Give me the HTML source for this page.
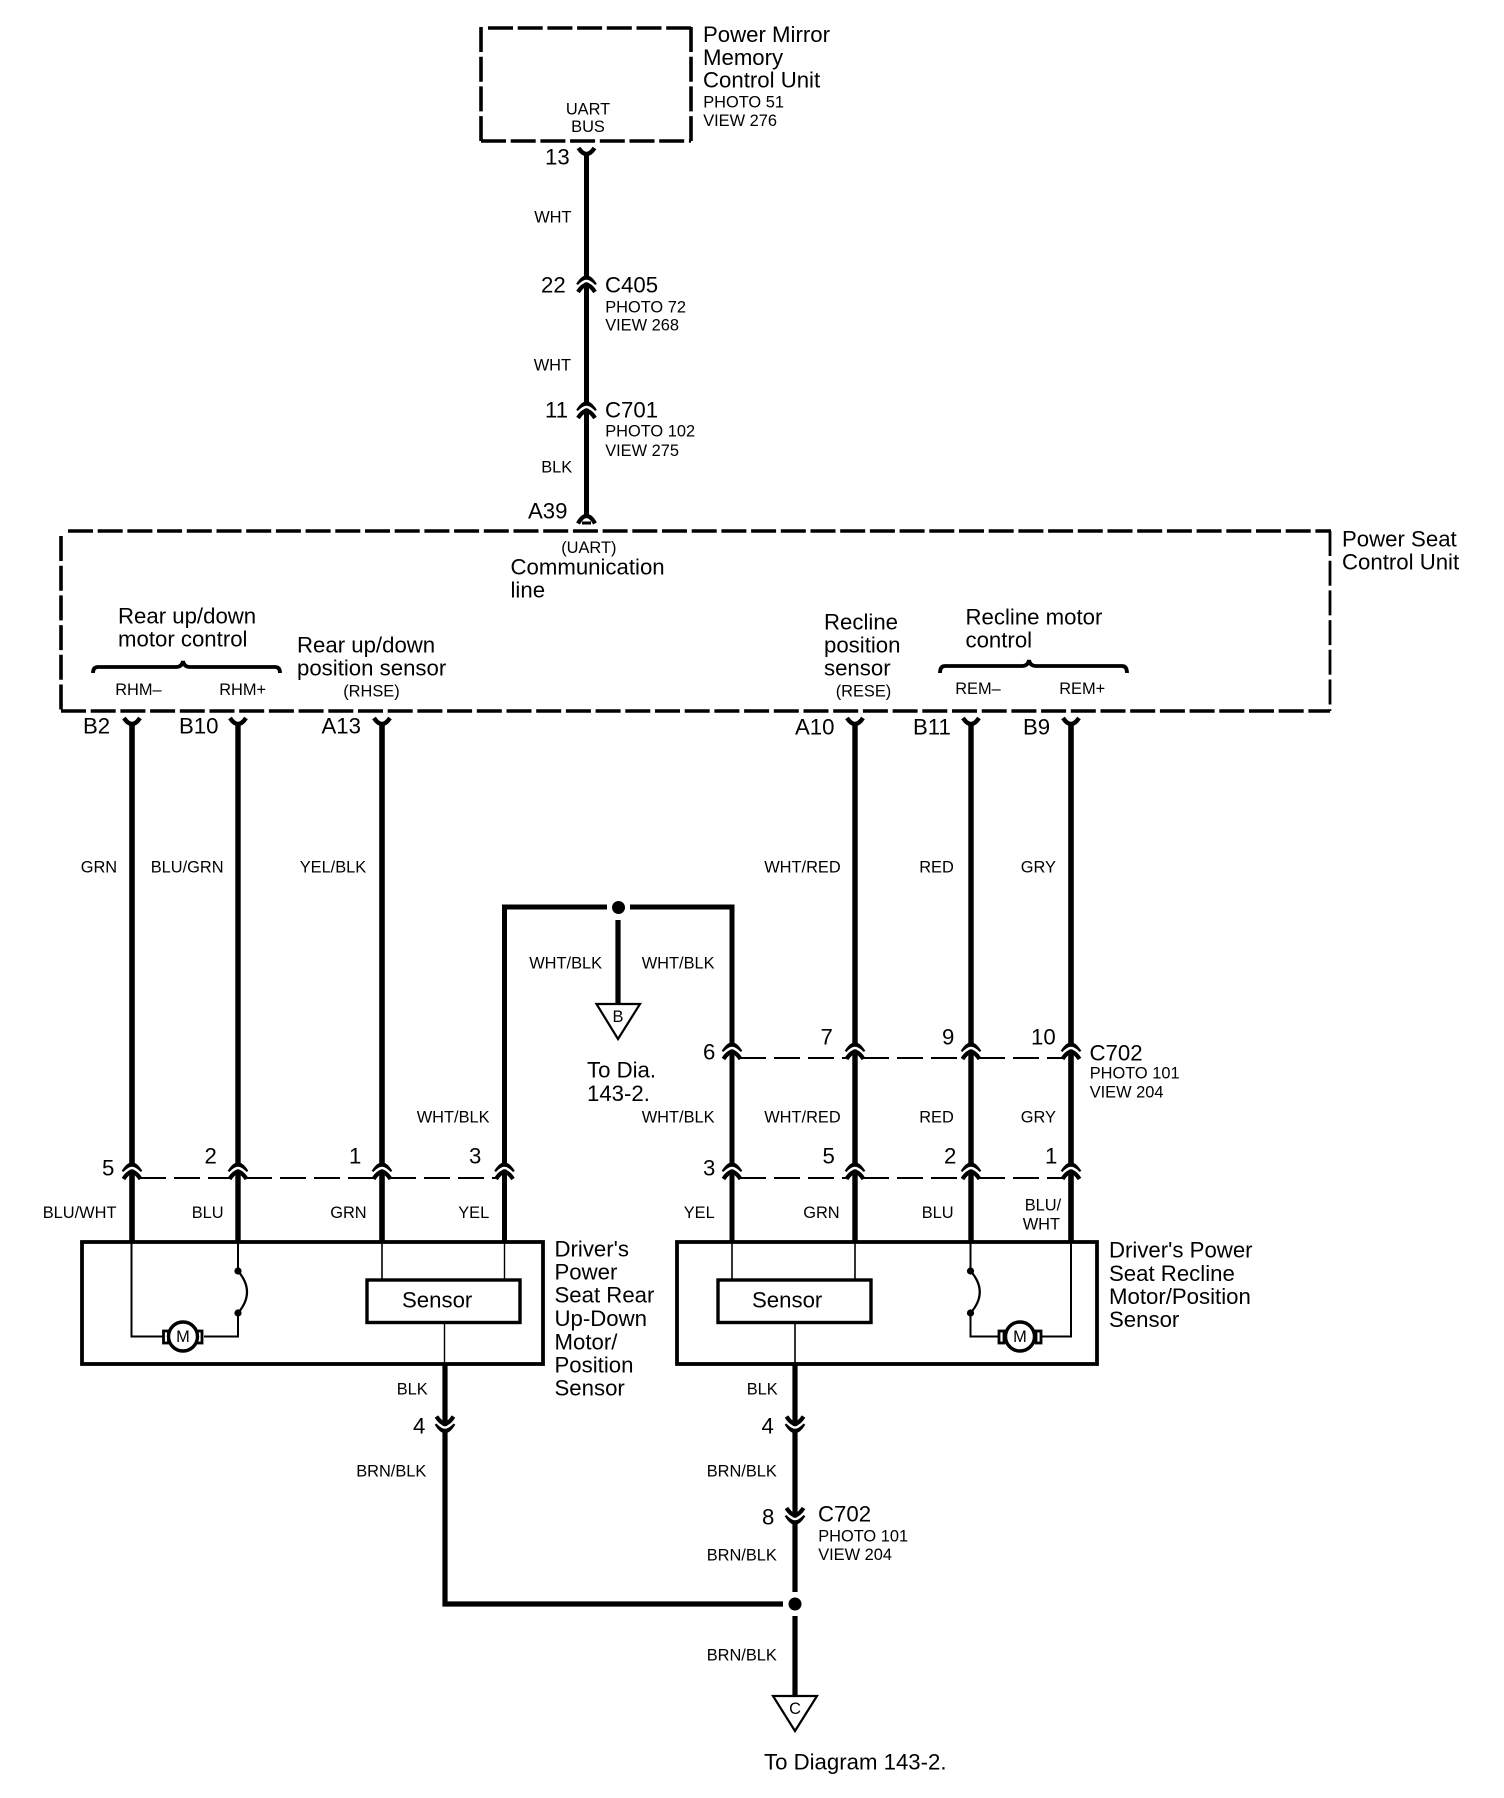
<!DOCTYPE html>
<html><head><meta charset="utf-8"><style>
html,body{margin:0;padding:0;background:#fff}
svg{display:block}
text{font-family:"Liberation Sans",sans-serif;fill:#000}
.b{font-size:22.2px}
.s{font-size:16.4px}
.m{text-anchor:middle}
</style></head><body>
<svg width="1504" height="1798" viewBox="0 0 1504 1798" xmlns="http://www.w3.org/2000/svg">
<defs>
<g id="up" fill="none">
<path d="M-8.5,-6 Q-4,-13.5 0,-13.5 Q4,-13.5 8.5,-6" stroke="#000" stroke-width="4.2"/>
<path d="M-10,-2.5 Q-4,-10 0,-10 Q4,-10 10,-2.5" stroke="#fff" stroke-width="2.4"/>
<path d="M-8.5,1 Q-4,-6 0,-6 Q4,-6 8.5,1" stroke="#000" stroke-width="4.2"/>
</g>
<path id="y" d="M-8,0 Q-4,6 0,6 Q4,6 8,0" fill="none" stroke="#000" stroke-width="4.4"/>
</defs>

<!-- dashed boxes -->
<g fill="none" stroke="#000" stroke-width="3.6" stroke-dasharray="25 4.7">
<path d="M488,28 H691"/>
<path d="M481,27 V141"/>
<path d="M691,27 V141"/>
<path d="M481,141 H691"/>
<path d="M68,531 H1331"/>
<path d="M1330,531 V711" stroke-width="2.8"/>
<path d="M61,536 V711"/>
<path d="M61,711 H1330"/>
</g>

<!-- thick wires -->
<g fill="none" stroke="#000" stroke-linecap="butt">
<path d="M586.5,154 V518" stroke-width="5"/>
<path d="M132,723 V1243" stroke-width="5.6"/>
<path d="M238,723 V1243" stroke-width="5.4"/>
<path d="M382,723 V1243" stroke-width="5.6"/>
<path d="M855,723 V1243" stroke-width="5.4"/>
<path d="M971,723 V1243" stroke-width="5.4"/>
<path d="M1071,723 V1243" stroke-width="5.6"/>
<path d="M504.5,1243 V907 H607" stroke-width="5"/>
<path d="M630,907 H732 V1243" stroke-width="5"/>
<path d="M618,920 V1004" stroke-width="5.2"/>
<path d="M445,1364 V1604 H783" stroke-width="5.2"/>
<path d="M795,1364 V1592" stroke-width="5.2"/>
<path d="M795,1616 V1696" stroke-width="5.2"/>
</g>
<circle cx="618.5" cy="907.5" r="6.5" fill="#000"/>
<circle cx="795" cy="1604" r="6.5" fill="#000"/>

<!-- thin dashed connector bars -->
<g fill="none" stroke="#000" stroke-width="2" stroke-dasharray="26 8">
<path d="M140,1178 H230"/>
<path d="M246,1178 H374"/>
<path d="M390,1178 H496"/>
<path d="M740,1058 H847"/>
<path d="M863,1058 H963"/>
<path d="M979,1058 H1063"/>
<path d="M740,1178 H847"/>
<path d="M863,1178 H963"/>
<path d="M979,1178 H1063"/>
</g>

<!-- connectors -->
<use href="#y" transform="translate(586.5,148)"/>
<use href="#up" transform="translate(586.5,291)"/>
<use href="#up" transform="translate(586.5,417)"/>
<path d="M578,523.5 Q582,516 586.5,516 Q591,516 595,523.5" fill="none" stroke="#000" stroke-width="4.2"/>
<rect x="582" y="521.5" width="9" height="3" fill="#000"/>
<use href="#y" transform="translate(132,718)"/>
<use href="#y" transform="translate(238,718)"/>
<use href="#y" transform="translate(382,718)"/>
<use href="#y" transform="translate(855,718)"/>
<use href="#y" transform="translate(971,718)"/>
<use href="#y" transform="translate(1071,718)"/>
<use href="#up" transform="translate(732,1058)"/>
<use href="#up" transform="translate(855,1058)"/>
<use href="#up" transform="translate(971,1058)"/>
<use href="#up" transform="translate(1071,1058)"/>
<use href="#up" transform="translate(132,1178)"/>
<use href="#up" transform="translate(238,1178)"/>
<use href="#up" transform="translate(382,1178)"/>
<use href="#up" transform="translate(504.5,1178)"/>
<use href="#up" transform="translate(732,1178)"/>
<use href="#up" transform="translate(855,1178)"/>
<use href="#up" transform="translate(971,1178)"/>
<use href="#up" transform="translate(1071,1178)"/>
<use href="#up" transform="translate(445,1417.5) scale(1,-1)"/>
<use href="#up" transform="translate(795,1417.5) scale(1,-1)"/>
<use href="#up" transform="translate(795,1509) scale(1,-1)"/>

<!-- component boxes -->
<g fill="none" stroke="#000" stroke-width="3.8">
<rect x="82" y="1242" width="461" height="122"/>
<rect x="677" y="1242" width="420" height="122"/>
<rect x="367" y="1280" width="153" height="42.5" stroke-width="3.4"/>
<rect x="718" y="1280" width="153" height="42.5" stroke-width="3.4"/>
</g>

<!-- internal thin wiring -->
<g fill="none" stroke="#000" stroke-width="2">
<path d="M131.5,1243 V1336.5 H163"/>
<path d="M238,1243 V1271"/>
<path d="M238,1313 V1336.5 H204"/>
<path d="M238,1271 Q256,1292 238,1313" stroke-width="2.2"/>
<path d="M382,1243 V1280" stroke-width="1.6"/>
<path d="M504.5,1243 V1280" stroke-width="1.4"/>
<path d="M444.5,1322 V1364" stroke-width="1.4"/>
<path d="M1071,1243 V1336.5 H1041"/>
<path d="M970.5,1243 V1271"/>
<path d="M970.5,1313 V1336.5 H999"/>
<path d="M970.5,1271 Q989,1292 970.5,1313" stroke-width="2.2"/>
<path d="M732,1243 V1280" stroke-width="1.6"/>
<path d="M855,1243 V1280" stroke-width="1.6"/>
<path d="M795,1322 V1364" stroke-width="1.6"/>
</g>
<g fill="#000">
<circle cx="238" cy="1271" r="3.6"/><circle cx="238" cy="1313" r="3.6"/>
<circle cx="970.5" cy="1271" r="3.6"/><circle cx="970.5" cy="1313" r="3.6"/>
</g>

<!-- motors -->
<g fill="#fff" stroke="#000" stroke-width="2.8">
<rect x="163.5" y="1331" width="5" height="12"/><rect x="197" y="1331" width="5" height="12"/>
<circle cx="183" cy="1336.5" r="14.5" stroke-width="3.4"/>
<rect x="999" y="1331" width="5" height="12"/><rect x="1036" y="1331" width="5" height="12"/>
<circle cx="1020" cy="1336.5" r="14.5" stroke-width="3.4"/>
</g>

<!-- braces -->
<g fill="none" stroke="#000" stroke-width="3.8">
<path d="M93,673 Q93,667 98,667 L176,667 Q182,667 183,661 Q184,667 190,667 L275,667 Q280,667 280,673"/>
<path d="M940,673 Q940,666 945,666 L1022,666 Q1028,666 1029,660 Q1030,666 1036,666 L1122,666 Q1127,666 1127,673"/>
</g>

<!-- off-page triangles -->
<g fill="#fff" stroke="#000" stroke-width="2.2">
<path d="M596.5,1004 H640 L618,1039 Z"/>
<path d="M773,1696 H817 L795,1731 Z"/>
</g>

<!-- text -->
<g class="b" transform="translate(-1,-0.5)">
<text x="704" y="42.5">Power Mirror</text>
<text x="704" y="65.5">Memory</text>
<text x="704" y="88">Control Unit</text>
<text x="546" y="165">13</text>
<text x="542" y="293">22</text>
<text x="606" y="293">C405</text>
<text x="546" y="418">11</text>
<text x="606" y="418">C701</text>
<text x="529" y="519">A39</text>
<text x="511.5" y="575">Communication</text>
<text x="511.5" y="598">line</text>
<text x="119" y="624">Rear up/down</text>
<text x="119" y="647">motor control</text>
<text x="298" y="653">Rear up/down</text>
<text x="298" y="676">position sensor</text>
<text x="825" y="630">Recline</text>
<text x="825" y="653">position</text>
<text x="825" y="676">sensor</text>
<text x="966.5" y="625">Recline motor</text>
<text x="966.5" y="648">control</text>
<text x="1343" y="547">Power Seat</text>
<text x="1343" y="570">Control Unit</text>
<text x="84" y="734">B2</text>
<text x="180" y="734">B10</text>
<text x="322.5" y="734">A13</text>
<text x="796" y="735">A10</text>
<text x="914" y="735">B11</text>
<text x="1024" y="735">B9</text>
<text x="704" y="1060">6</text>
<text x="821.5" y="1045">7</text>
<text x="943" y="1045">9</text>
<text x="1032" y="1045">10</text>
<text x="1090.5" y="1061">C702</text>
<text x="588" y="1078">To Dia.</text>
<text x="588" y="1101.5">143-2.</text>
<text x="103" y="1176">5</text>
<text x="205.5" y="1164">2</text>
<text x="350" y="1164">1</text>
<text x="470" y="1164">3</text>
<text x="704" y="1176">3</text>
<text x="823.5" y="1164">5</text>
<text x="945" y="1164">2</text>
<text x="1046" y="1164">1</text>
<text x="403" y="1308">Sensor</text>
<text x="753" y="1308">Sensor</text>
<text x="555.5" y="1257">Driver's</text>
<text x="555.5" y="1280">Power</text>
<text x="555.5" y="1303">Seat Rear</text>
<text x="555.5" y="1326.5">Up-Down</text>
<text x="555.5" y="1350">Motor/</text>
<text x="555.5" y="1373">Position</text>
<text x="555.5" y="1396">Sensor</text>
<text x="1110" y="1258">Driver's Power</text>
<text x="1110" y="1281.5">Seat Recline</text>
<text x="1110" y="1304.5">Motor/Position</text>
<text x="1110" y="1327.5">Sensor</text>
<text x="414" y="1434">4</text>
<text x="762.5" y="1434">4</text>
<text x="763" y="1525">8</text>
<text x="819" y="1522">C702</text>
<text x="765" y="1770">To Diagram 143-2.</text>
</g>
<g class="s" transform="translate(-0.8,-0.4)">
<text x="704" y="108">PHOTO 51</text>
<text x="704" y="126.5">VIEW 276</text>
<text x="588.8" y="115" class="m">UART</text>
<text x="588.8" y="132.5" class="m">BUS</text>
<text x="535" y="223">WHT</text>
<text x="606" y="313">PHOTO 72</text>
<text x="606" y="331">VIEW 268</text>
<text x="534.5" y="371">WHT</text>
<text x="606" y="437">PHOTO 102</text>
<text x="606" y="456.5">VIEW 275</text>
<text x="542" y="473">BLK</text>
<text x="562" y="553.5">(UART)</text>
<text x="116" y="695.5">RHM–</text>
<text x="220" y="695.5">RHM+</text>
<text x="344" y="697">(RHSE)</text>
<text x="836.5" y="697">(RESE)</text>
<text x="956" y="694.5">REM–</text>
<text x="1060" y="694.5">REM+</text>
<text x="81.5" y="873">GRN</text>
<text x="151.5" y="873">BLU/GRN</text>
<text x="300.5" y="873">YEL/BLK</text>
<text x="765" y="873">WHT/RED</text>
<text x="920" y="873">RED</text>
<text x="1021.5" y="873">GRY</text>
<text x="530" y="969">WHT/BLK</text>
<text x="642.5" y="969">WHT/BLK</text>
<text x="1090.5" y="1079">PHOTO 101</text>
<text x="1090.5" y="1098">VIEW 204</text>
<text x="417.5" y="1123">WHT/BLK</text>
<text x="642.5" y="1123">WHT/BLK</text>
<text x="765" y="1123">WHT/RED</text>
<text x="920" y="1123">RED</text>
<text x="1021.5" y="1123">GRY</text>
<text x="43.5" y="1218.5">BLU/WHT</text>
<text x="192.5" y="1218.5">BLU</text>
<text x="331" y="1218.5">GRN</text>
<text x="459" y="1218.5">YEL</text>
<text x="684.5" y="1218.5">YEL</text>
<text x="804" y="1218.5">GRN</text>
<text x="922.5" y="1218.5">BLU</text>
<text x="1025.5" y="1211">BLU/</text>
<text x="1023.5" y="1230">WHT</text>
<text x="397.5" y="1395">BLK</text>
<text x="747.5" y="1395">BLK</text>
<text x="357" y="1477">BRN/BLK</text>
<text x="707.5" y="1477">BRN/BLK</text>
<text x="707.5" y="1561">BRN/BLK</text>
<text x="707.5" y="1661">BRN/BLK</text>
<text x="819" y="1542">PHOTO 101</text>
<text x="819" y="1560.5">VIEW 204</text>
<text x="618.8" y="1022.5" class="m">B</text>
<text x="795.8" y="1714.5" class="m">C</text>
<text x="183.8" y="1342.5" class="m">M</text>
<text x="1020.8" y="1342.5" class="m">M</text>
</g>
</svg>
</body></html>
